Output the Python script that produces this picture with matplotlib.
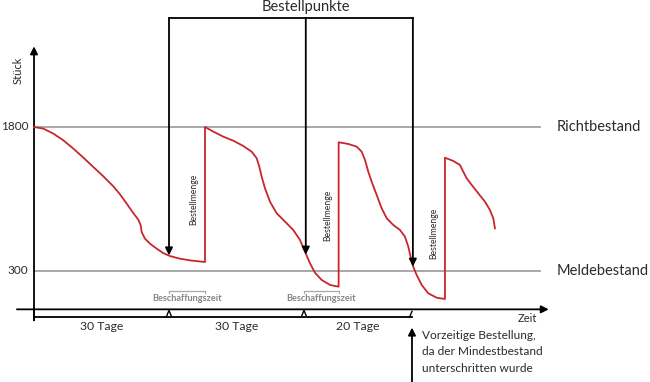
import matplotlib.pyplot as plt

plt.rcParams['font.family'] = ['Lato', 'DejaVu Sans']

# Lagerbestand (Tage / Stück)
curve_days = [0, 2.07, 4.29, 6.51, 8.73, 10.96, 13.18, 15.40, 17.62, 19.11, 20.6, 22.07, 23.18, 23.71,
              23.93, 24.67, 25.78, 27.27, 28.73, 30.22, 32.44, 34.67, 38.0,
              38.0, 39.84, 42.07, 44.29, 46.51, 48.38, 49.49, 50.07, 50.6, 51.33, 52.44, 53.93, 55.78,
              57.62, 59.11, 60.22, 61.33, 62.44, 63.93, 65.78, 67.7,
              67.7, 69.84, 71.71, 72.82, 73.56, 74.29, 75.04, 76.16, 77.27, 78.38, 79.84, 81.33, 82.44,
              83.18, 83.78, 84.29, 85.04, 86.16, 87.62, 89.49, 91.33,
              91.33, 93.18, 94.67, 95.4, 96.16, 97.27, 98.73, 100.22, 101.33, 102.07, 102.44]
curve_stock = [1800, 1783, 1731, 1661, 1575, 1481, 1383, 1286, 1182, 1098, 1001, 903, 834, 775,
               705, 636, 584, 532, 486, 455, 428, 410, 393,
               1800, 1752, 1699, 1657, 1602, 1542, 1474, 1386, 1282, 1161, 1022, 901, 814,
               727, 623, 501, 380, 282, 206, 154, 136,
               1641, 1623, 1595, 1543, 1456, 1334, 1230, 1091, 952, 849, 779, 727, 657,
               553, 432, 344, 258, 154, 67, 21, 8,
               1480, 1446, 1404, 1334, 1265, 1196, 1109, 1022, 935, 849, 744]

richtbestand = 1800
meldebestand = 300

order_days = [30, 60.4, 84.2]
order_stock = [462, 470, 345]
delivery_days = [38.0, 67.7, 91.33]
delivery_mid = [1050, 880, 690]

period_bounds = [0, 30, 60, 84]
period_labels = ['30 Tage', '30 Tage', '20 Tage']

red = '#c8262c'
grey = '#a8a8a8'
txt = '#2b2b2b'

fig = plt.figure(figsize=(6.5, 3.82), dpi=100)
ax = fig.add_axes([0, 0, 1, 1])
ax.set_xlim(-7.56, 136.9)
ax.set_ylim(-857, 3123)
ax.axis('off')

# Richt- und Meldebestand
for lvl, name in [(richtbestand, 'Richtbestand'), (meldebestand, 'Meldebestand')]:
    ax.plot([0, 112.4], [lvl, lvl], color=grey, lw=1.4, zorder=1)
    ax.text(116.2, lvl, name, fontsize=10.5, color=txt, va='center', ha='left')
    ax.text(-1.3, lvl, str(lvl), fontsize=8.5, color=txt, va='center', ha='right')

# Achsen
arrow = dict(arrowstyle='-|>', color='black', lw=1.3, mutation_scale=11, shrinkA=0, shrinkB=0)
ax.annotate('', xy=(0, 2640), xytext=(0, -215), arrowprops=arrow)
ax.annotate('', xy=(114.4, -100), xytext=(-3.8, -100), arrowprops=arrow)
ax.text(-3.6, 2390, 'Stück', rotation=90, fontsize=8, color=txt, ha='center', va='center')
ax.text(111.8, -195, 'Zeit', fontsize=8, color=txt, ha='right', va='center')

# Bestand
ax.plot(curve_days, curve_stock, color=red, lw=1.3, zorder=3, solid_joinstyle='round')

# Bestellpunkte
top = 2936
ax.plot([order_days[0], order_days[-1]], [top, top], color='black', lw=1.3)
for d, s in zip(order_days, order_stock):
    ax.annotate('', xy=(d, s), xytext=(d, top), arrowprops=arrow, zorder=4)
ax.text(60.4, 3009, 'Bestellpunkte', fontsize=10.5,
        color=txt, ha='center', va='baseline')

# Bestellmenge
for d, m in zip(delivery_days, delivery_mid):
    ax.text(d - 2.4, m, 'Bestellmenge', rotation=90, fontsize=6.2, color=txt,
            ha='center', va='center')

# Beschaffungszeit
for d0, d1 in zip(period_bounds[1:3], delivery_days[:2]):
    ax.plot([d0, d0, d1, d1], [75, 95, 95, 75], color=grey, lw=0.9)
    ax.text((d0 + d1) / 2, 15, 'Beschaffungszeit', fontsize=6.6, color='#858585',
            fontweight='bold', ha='center', va='center')

# Zeitraeume
yb = -180
ax.plot([0, 0], [-100, -215], color='black', lw=1.3)
ax.plot([0, period_bounds[-1]], [yb, yb], color='black', lw=1.3)
for d in period_bounds[1:-1]:
    ax.plot([d - 0.6, d, d + 0.6], [yb, yb + 70, yb], color='black', lw=1.0)
ax.plot([period_bounds[-1] - 0.5, period_bounds[-1]], [yb, yb + 60], color='black', lw=1.0)
for a, b, lab in zip(period_bounds[:-1], period_bounds[1:], period_labels):
    ax.text((a + b) / 2, -275, lab, fontsize=8.8, color=txt, ha='center', va='center')

# Vorzeitige Bestellung
ax.annotate('', xy=(84, -290), xytext=(84, -880), arrowprops=arrow)
ax.text(86.2, -544, 'Vorzeitige Bestellung,\nda der Mindestbestand\nunterschritten wurde',
        fontsize=8.6, color=txt, ha='left', va='center', linespacing=1.6)

plt.savefig('out.png', dpi=100)
